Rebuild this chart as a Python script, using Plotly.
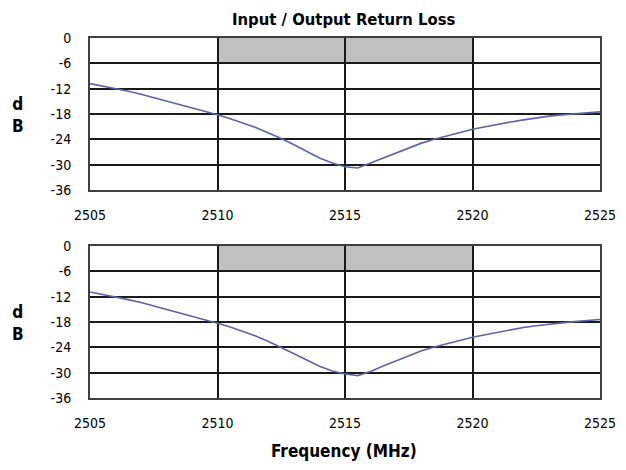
import plotly.graph_objects as go
from plotly.subplots import make_subplots

freq = [2505, 2505.5, 2506, 2506.5, 2507, 2507.5, 2508, 2508.5, 2509, 2509.5,
        2510, 2510.5, 2511, 2511.5, 2512, 2512.5, 2513, 2513.5, 2514, 2514.5,
        2515, 2515.5, 2516, 2516.5, 2517, 2517.5, 2518, 2518.5, 2519, 2519.5,
        2520, 2520.5, 2521, 2521.5, 2522, 2522.5, 2523, 2523.5, 2524, 2524.5, 2525]

input_rl = [-10.8, -11.4, -11.9, -12.6, -13.3, -14.1, -14.9, -15.7, -16.5, -17.3,
            -18.2, -19.1, -20.1, -21.2, -22.5, -23.8, -25.3, -26.9, -28.4, -29.6,
            -30.5, -30.8, -29.6, -28.4, -27.3, -26.0, -24.9, -24.0, -23.2, -22.4,
            -21.6, -21.0, -20.4, -19.9, -19.4, -18.9, -18.5, -18.2, -18.0, -17.8, -17.5]

output_rl = [-10.9, -11.5, -12.0, -12.7, -13.4, -14.2, -15.0, -15.8, -16.6, -17.4,
             -18.3, -19.2, -20.2, -21.3, -22.6, -24.0, -25.5, -27.0, -28.5, -29.6,
             -30.3, -30.7, -29.7, -28.4, -27.2, -25.9, -24.8, -23.9, -23.1, -22.3,
             -21.6, -21.0, -20.4, -19.8, -19.3, -18.9, -18.5, -18.2, -17.9, -17.7, -17.4]

y_ticks = [0, -6, -12, -18, -24, -30, -36]
y_tick_labels = ["0", "-6", "-12", "-18", "-24", "-30", "-36"]
x_ticks = [2505, 2510, 2515, 2520, 2525]
x_tick_labels = ["2505", "2510", "2515", "2520", "2525"]
spec_band_x = [2510, 2520]
spec_band_y = [-6, 0]

title_text = "Input / Output Return Loss"
x_title = "Frequency (MHz)"
y_title = "d<br>B"

FONT = "DejaVu Sans Condensed, Liberation Sans, Arial, sans-serif"
LINE_COLOR = "#5A66A6"
GRID = "#1a1a1a"

W, H = 626, 470
ML, MR, MT, MB = 90, 26, 38, 72

fig = make_subplots(rows=2, cols=1, vertical_spacing=0.0)

for row, series in ((1, input_rl), (2, output_rl)):
    fig.add_trace(go.Scatter(x=freq, y=series, mode="lines",
                             line=dict(color=LINE_COLOR, width=1.6),
                             showlegend=False, hoverinfo="skip"), row=row, col=1)
    fig.add_shape(type="rect", x0=spec_band_x[0], x1=spec_band_x[1],
                  y0=spec_band_y[0], y1=spec_band_y[1],
                  fillcolor="#C0C0C0", line=dict(width=0), layer="below",
                  row=row, col=1)

axis_common = dict(showline=True, mirror=True, linecolor="#404040", linewidth=2,
                   showgrid=True, gridcolor=GRID, gridwidth=1.5, automargin=False,
                   zeroline=False, ticks="", tickfont=dict(family=FONT, size=14, color="#000"))

fig.update_xaxes(range=[2505, 2525], tickvals=x_ticks, ticktext=x_tick_labels,
                 ticklabelstandoff=11, **axis_common)
fig.update_yaxes(range=[-36, 0], tickvals=y_ticks, ticktext=y_tick_labels,
                 ticklabelstandoff=14, **axis_common)

plot_h = H - MT - MB
def py(pix):
    return (H - MB - pix) / plot_h
def px(pix):
    return (pix - ML) / (W - ML - MR)

fig.update_layout(
    width=W, height=H,
    margin=dict(l=ML, r=MR, t=MT, b=MB, autoexpand=False),
    paper_bgcolor="white", plot_bgcolor="white",
    xaxis=dict(domain=[0, 1]),
    xaxis2=dict(domain=[0, 1]),
    yaxis=dict(domain=[py(190), 1.0]),
    yaxis2=dict(domain=[0.0, py(246)]),
)

fig.add_annotation(text="<b>" + title_text + "</b>", x=px(344), y=py(20), xref="paper", yref="paper",
                   showarrow=False, font=dict(family=FONT, size=16.5, color="#000"),
                   xanchor="center", yanchor="middle")
fig.add_annotation(text="<b>" + x_title + "</b>", x=px(344), y=py(451), xref="paper", yref="paper",
                   showarrow=False, font=dict(family=FONT, size=17, color="#000"),
                   xanchor="center", yanchor="middle")
for center in (115, 323):
    fig.add_annotation(text="<b>" + y_title + "</b>", x=px(18), y=py(center),
                       xref="paper", yref="paper", showarrow=False,
                       font=dict(family=FONT, size=17, color="#000"),
                       xanchor="center", yanchor="middle")

fig.write_html("out.html", config={"displayModeBar": False},
               post_script="document.body.style.margin='0';")
